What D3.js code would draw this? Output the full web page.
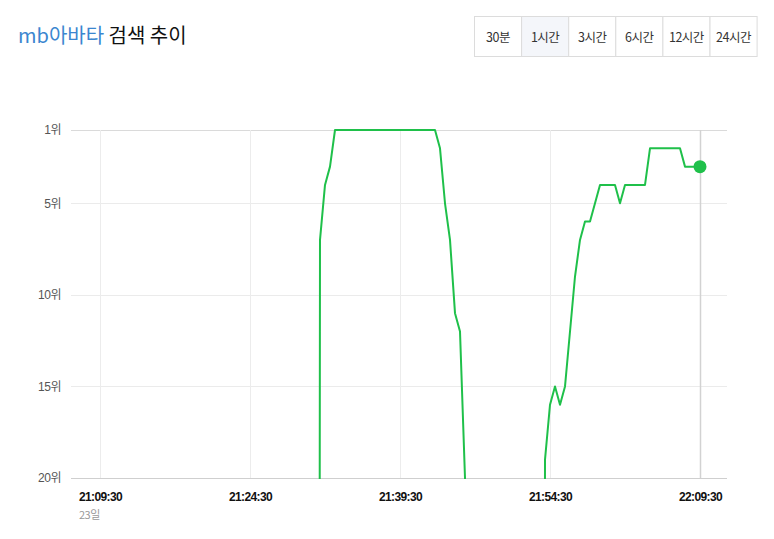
<!DOCTYPE html>
<html>
<head>
<meta charset="utf-8">
<script src="https://cdn.jsdelivr.net/npm/d3@7"></script>
<style>
  html, body { margin: 0; padding: 0; background: #fff; }
  svg { display: block; font-family: "Noto Sans CJK KR", "Noto Sans", sans-serif; }
</style>
</head>
<body>
<svg id="chart" width="774" height="539"></svg>
<script>
// ---- data ----
const titleKeyword = "mb아바타";
const titleSuffix = "검색 추이";
const periodOptions = ["30분", "1시간", "3시간", "6시간", "12시간", "24시간"];
const selectedPeriod = "1시간";
const yTickValues = [1, 5, 10, 15, 20];
const yTickSuffix = "위";
const xTickLabels = ["21:09:30", "21:24:30", "21:39:30", "21:54:30", "22:09:30"];
const dateLabel = "23일";
const seriesStart = "21:31:00";
const seriesStepSeconds = 30;
// rank every 30 seconds from 21:31:00 (null = out of chart)
const ranks = [
  null,
  7, 4, 3, 1,
  1, 1, 1, 1, 1, 1, 1, 1, 1, 1, 1, 1, 1, 1, 1, 1, 1, 1, 1, 1,
  2, 5, 7, 11, 12, 20,
  null, null, null, null, null, null, null, null, null, null, null, null, null, null, null,
  19, 16, 15, 16, 15, 12, 9, 7, 6, 6, 5, 4, 4, 4, 4, 5, 4, 4, 4, 4, 4,
  2, 2, 2, 2, 2, 2, 2, 3, 3, 3, 3
];

// ---- layout ----
const svg = d3.select("#chart");
const plot = { left: 71, right: 727, top: 130, bottom: 478 };
const green = "#1fc04a";

const parse = d3.timeParse("%H:%M:%S");
const x = d3.scaleTime()
  .domain([parse(xTickLabels[0]), parse(xTickLabels[xTickLabels.length - 1])])
  .range([100, 700]);
const y = d3.scaleLinear().domain([1, 20]).range([plot.top, plot.bottom]);

const t0 = parse(seriesStart);
const series = ranks.map((r, i) => ({ t: new Date(t0.getTime() + i * seriesStepSeconds * 1000), r }));

// title
const title = svg.append("text").attr("x", 18).attr("y", 43)
  .style("font-size", "20px");
title.append("tspan").attr("fill", "#3b86cf").text(titleKeyword);
title.append("tspan").attr("fill", "#111").text(" " + titleSuffix);

// period buttons
const btnX = 474.5, btnY = 16.5, btnW = 47.1, btnH = 40;
const btns = svg.append("g");
periodOptions.forEach((p, i) => {
  const g = btns.append("g").attr("transform", `translate(${btnX + i * btnW},${btnY})`);
  g.append("rect").attr("width", btnW).attr("height", btnH)
    .attr("fill", p === selectedPeriod ? "#f4f6fa" : "#fff")
    .attr("stroke", "#dcdcdc").attr("stroke-width", 1);
  g.append("text").attr("x", btnW / 2).attr("y", 25).attr("text-anchor", "middle")
    .style("font-size", "12.5px").attr("fill", "#333").attr("letter-spacing", "-0.5px").text(p);
});

// horizontal grid
svg.append("g").selectAll("line").data(yTickValues).join("line")
  .attr("x1", plot.left).attr("x2", plot.right)
  .attr("y1", d => Math.round(y(d)) + 0.5).attr("y2", d => Math.round(y(d)) + 0.5)
  .attr("stroke", (d, i) => (i === 0 ? "#dadada" : i === yTickValues.length - 1 ? "#cfcfcf" : "#ebebeb"))
  .attr("stroke-width", 1);

// vertical grid
const xTicks = xTickLabels.map(parse);
svg.append("g").selectAll("line").data(xTicks).join("line")
  .attr("x1", d => Math.round(x(d)) + 0.5).attr("x2", d => Math.round(x(d)) + 0.5)
  .attr("y1", plot.top).attr("y2", plot.bottom)
  .attr("stroke", (d, i) => (i === xTicks.length - 1 ? "#d2d2d2" : "#ececec"))
  .attr("stroke-width", (d, i) => (i === xTicks.length - 1 ? 1.5 : 1));

// y axis labels
const yAxis = d3.axisLeft(y).tickValues(yTickValues).tickSize(0).tickPadding(10)
  .tickFormat(d => d + yTickSuffix);
const gy = svg.append("g").attr("transform", `translate(${plot.left},0)`).call(yAxis);
gy.select(".domain").remove();
gy.selectAll("text").style("font-size", "12px").attr("fill", "#555")
  .style("font-family", "'Liberation Sans', 'Noto Sans CJK KR', sans-serif").attr("letter-spacing", "-0.5px");

// x axis labels
const xAxis = d3.axisBottom(x).tickValues(xTicks).tickSize(0).tickPadding(0)
  .tickFormat(d3.timeFormat("%H:%M:%S"));
const gx = svg.append("g").attr("transform", `translate(0,${plot.bottom})`).call(xAxis);
gx.select(".domain").remove();
gx.selectAll("text").attr("dy", null).attr("y", 23)
  .style("font-size", "12px").style("font-weight", "bold").attr("fill", "#111")
  .style("font-family", "'Liberation Sans', Arial, sans-serif").attr("letter-spacing", "-0.6px");

svg.append("text").attr("x", 79).attr("y", 519)
  .style("font-size", "11px").attr("fill", "#999").attr("letter-spacing", "-0.5px").text(dateLabel);

// line (out-of-chart ranks run below the plot and are clipped)
svg.append("clipPath").attr("id", "plotclip").append("rect")
  .attr("x", plot.left).attr("y", plot.top - 10)
  .attr("width", plot.right - plot.left).attr("height", plot.bottom - plot.top + 11);

const offChart = plot.bottom + 4000;
const line = d3.line()
  .x(d => x(d.t))
  .y(d => (d.r == null ? offChart : y(d.r)));

svg.append("path").datum(series)
  .attr("clip-path", "url(#plotclip)")
  .attr("d", line).attr("fill", "none")
  .attr("stroke", green).attr("stroke-width", 2).attr("stroke-linejoin", "round");

// last point marker
const last = series[series.length - 1];
svg.append("circle").attr("cx", x(last.t)).attr("cy", y(last.r)).attr("r", 6.5).attr("fill", green);
</script>
</body>
</html>
